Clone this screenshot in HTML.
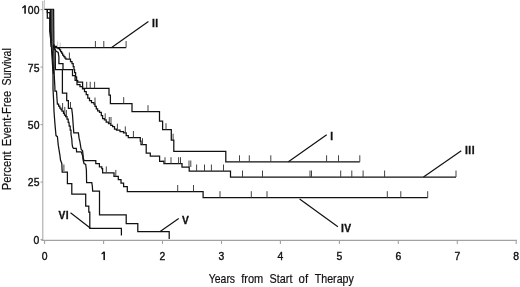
<!DOCTYPE html>
<html><head><meta charset="utf-8"><style>
html,body{margin:0;padding:0;background:#fff;}
svg{display:block;filter:grayscale(1);}
text{font-family:"Liberation Sans", sans-serif;fill:#111;}
</style></head><body>
<svg width="520" height="287" viewBox="0 0 520 287">
<rect width="520" height="287" fill="#fff"/>
<g stroke="#a2a2a2" stroke-width="1.1" fill="none">
<line x1="42.8" y1="1" x2="42.8" y2="240.4" stroke="#a8a8a8"/><line x1="44.5" y1="0" x2="44.5" y2="9" stroke="#bbb" stroke-width="0.8"/>
<line x1="41.5" y1="240.4" x2="517" y2="240.4"/>
<line x1="44.6" y1="240.5" x2="44.6" y2="244"/><line x1="103.6" y1="240.5" x2="103.6" y2="244"/><line x1="162.5" y1="240.5" x2="162.5" y2="244"/><line x1="221.5" y1="240.5" x2="221.5" y2="244"/><line x1="280.4" y1="240.5" x2="280.4" y2="244"/><line x1="339.4" y1="240.5" x2="339.4" y2="244"/><line x1="398.3" y1="240.5" x2="398.3" y2="244"/><line x1="457.3" y1="240.5" x2="457.3" y2="244"/><line x1="516.2" y1="240.5" x2="516.2" y2="244"/>
<line x1="40.5" y1="239.6" x2="43" y2="239.6"/><line x1="40.5" y1="182.1" x2="43" y2="182.1"/><line x1="40.5" y1="124.6" x2="43" y2="124.6"/><line x1="40.5" y1="67.1" x2="43" y2="67.1"/><line x1="40.5" y1="9.6" x2="43" y2="9.6"/>
</g>
<g font-size="11.8" stroke="#111" stroke-width="0.4"><text transform="translate(39.4,13.7) scale(0.88,1)" text-anchor="end">00</text><text transform="translate(39.4,71.5) scale(0.88,1)" text-anchor="end">75</text><text transform="translate(39.4,128.7) scale(0.88,1)" text-anchor="end">50</text><text transform="translate(39.4,186.3) scale(0.88,1)" text-anchor="end">25</text><text transform="translate(39.4,244.4) scale(0.88,1)" text-anchor="end">0</text><text transform="translate(44.6,260.4) scale(0.88,1)" text-anchor="middle">0</text><text transform="translate(162.5,260.4) scale(0.88,1)" text-anchor="middle">2</text><text transform="translate(221.5,260.4) scale(0.88,1)" text-anchor="middle">3</text><text transform="translate(280.4,260.4) scale(0.88,1)" text-anchor="middle">4</text><text transform="translate(339.4,260.4) scale(0.88,1)" text-anchor="middle">5</text><text transform="translate(398.3,260.4) scale(0.88,1)" text-anchor="middle">6</text><text transform="translate(457.3,260.4) scale(0.88,1)" text-anchor="middle">7</text><text transform="translate(516.2,260.4) scale(0.88,1)" text-anchor="middle">8</text></g><g fill="#111" stroke="none"><rect x="24.3" y="5.4" width="1.55" height="8.3"/><polygon points="24.3,5.4 25.2,5.4 24.9,6.9 22.2,8.5 22.2,7.2"/><rect x="103.4" y="251.7" width="1.55" height="8.4"/><polygon points="103.4,251.7 104.3,251.7 104.0,253.2 101.5,254.6 101.5,253.3"/></g>
<g font-size="12" stroke="#111" stroke-width="0.2"><text transform="translate(10.7,190.2) rotate(-90) scale(0.94,1)">Percent</text><text transform="translate(10.7,146.3) rotate(-90) scale(0.935,1)">Event-Free</text><text transform="translate(10.7,85.6) rotate(-90) scale(0.875,1)">Survival</text></g>
<g font-size="12" stroke="#111" stroke-width="0.2"><text transform="translate(208.8,283.4) scale(0.87,1)">Years</text><text transform="translate(241.2,283.4) scale(0.92,1)">from</text><text transform="translate(269.6,283.4) scale(0.9,1)">Start</text><text transform="translate(298.6,283.4) scale(0.95,1)">of</text><text transform="translate(314.7,283.4) scale(0.89,1)">Therapy</text></g>
<g fill="none" stroke="#111" stroke-width="1.25" stroke-linejoin="miter">
<polyline points="53.5,9.4 53.6,44.0 54.6,46.4 56.5,46.4 56.5,47.5 58.0,47.5 58.0,48.6 59.6,48.6 59.6,49.8 60.6,49.8 60.6,51.5 61.6,51.5 61.6,53.2 62.6,53.2 62.6,55.0 63.8,55.0 63.8,56.6 64.9,56.6 64.9,58.2 65.9,58.2 65.9,59.2 70.5,59.2 70.5,61.5 72.0,61.5 72.0,63.5 73.2,63.5 73.2,66.5 74.0,66.5 74.0,69.5 74.6,69.5 74.6,72.5 75.6,72.5 75.6,76.8 76.6,76.8 76.6,80.5 77.7,80.5 77.7,82.0 82.6,82.0 82.6,88.3 109.0,88.3 109.0,95.2 110.4,95.2 110.4,103.6 132.0,103.6 132.0,111.7 159.5,111.7 159.5,121.0 162.6,121.0 162.6,129.7 171.3,129.7 171.3,140.2 173.8,140.2 173.8,151.3 225.8,151.3 225.8,161.8 359.8,161.8"/>
<polyline points="44.4,9.4 53.5,9.4 53.5,44.0 54.3,47.6 126.1,47.6"/>
<polyline points="53.4,9.4 53.6,45.0 54.8,48.8 56.2,51.2 58.2,52.4 58.9,57.0 58.9,63.6 63.0,63.6 63.0,69.6 72.5,69.6 72.5,75.6 75.1,75.6 75.1,80.3 77.0,80.3 77.0,84.5 80.0,84.5 80.0,86.5 82.5,86.5 82.5,88.8 84.5,88.8 84.5,91.5 86.2,91.5 86.2,94.5 87.8,94.5 87.8,98.0 89.5,98.0 89.5,100.5 91.5,100.5 91.5,102.5 94.0,102.5 94.0,104.0 95.0,104.0 95.0,106.3 96.3,106.3 96.3,108.8 97.6,108.8 97.6,110.8 99.5,110.8 99.5,112.3 101.3,112.3 101.3,115.5 102.6,115.5 102.6,118.5 104.4,118.5 104.4,119.8 106.2,119.8 106.2,122.2 108.5,122.2 108.5,123.5 110.8,123.5 110.8,125.4 112.6,125.4 112.6,126.6 114.5,126.6 114.5,129.0 116.5,129.0 116.5,130.2 120.0,130.2 120.0,131.5 123.5,131.5 123.5,132.9 126.2,132.9 126.2,135.5 128.3,135.5 128.3,137.5 140.3,137.5 140.3,141.0 141.0,141.0 141.0,144.7 146.2,144.7 146.2,153.2 150.3,153.2 150.3,156.0 159.6,156.0 159.6,161.4 163.9,161.2 163.9,163.7 182.0,163.7 182.0,167.0 189.2,167.0 189.2,171.0 230.5,171.0 230.5,177.0 456.0,177.0"/>
<polyline points="53.3,9.4 53.5,45.0 54.6,48.8 55.2,50.0 55.3,56.0 55.4,69.6 62.4,69.6 62.4,93.2 66.7,93.2 66.7,100.7 68.4,100.7 68.4,108.4 71.7,108.4 72.5,115.0 73.2,125.0 73.8,132.8 78.4,132.8 79.1,138.4 79.8,141.1 80.5,145.3 81.2,149.5 82.6,150.9 83.3,157.9 84.0,160.5 95.8,160.5 95.8,163.5 99.4,163.5 99.4,166.8 101.8,166.8 101.8,168.5 102.6,168.5 102.6,172.9 114.0,172.9 114.0,176.4 118.3,176.4 118.3,179.5 121.0,179.5 121.0,183.0 123.6,183.0 123.6,186.6 127.3,186.6 127.3,191.5 203.1,191.5 203.1,197.7 427.7,197.7"/>
<polyline points="47.3,9.4 47.3,12.6 49.9,12.6 50.2,30.0 51.2,38.0 52.6,44.0 53.7,48.0 54.0,60.0 54.1,72.0 54.4,78.4 54.9,87.4 54.9,91.0 56.5,91.0 57.0,99.0 57.4,104.0 58.6,104.0 58.6,106.0 59.8,106.0 59.8,108.0 61.0,108.0 61.0,109.5 62.0,109.5 62.0,111.0 63.5,111.0 63.5,113.4 64.5,113.4 64.5,115.0 65.6,115.0 65.6,116.5 67.0,116.5 67.0,119.2 68.2,119.2 68.2,122.3 69.0,122.3 69.2,126.0 70.2,126.0 70.2,130.1 71.0,130.1 71.0,134.5 71.8,139.0 72.1,144.0 72.6,147.0 73.5,148.3 76.3,148.3 76.6,151.8 81.2,151.8 82.6,155.8 83.1,160.0 84.0,163.5 85.7,164.4 86.4,170.0 86.6,182.6 91.8,182.6 92.3,186.0 92.7,191.0 99.5,191.0 99.5,214.9 126.2,214.9 126.2,223.5 137.8,223.5 137.8,231.7 169.2,231.7 169.2,238.9"/>
<polyline points="47.3,9.4 47.3,18.0 49.9,18.0 49.9,30.0 50.6,38.0 51.4,46.0 51.9,55.0 52.6,66.0 53.0,75.0 53.0,80.4 53.0,88.8 53.6,100.0 54.0,111.2 54.6,119.5 55.3,127.9 56.0,135.6 57.4,136.7 58.3,145.4 60.0,155.9 60.5,160.0 61.8,163.5 62.2,172.2 67.4,172.2 67.4,183.5 71.8,183.5 71.8,194.0 85.7,194.0 85.7,206.2 88.8,206.2 88.8,212.2 89.8,212.2 89.8,228.3 121.4,228.3 121.4,235.6"/>
<line x1="52.8" y1="9.4" x2="53.0" y2="42"/><line x1="50.2" y1="30" x2="51.2" y2="38"/><line x1="51.2" y1="38" x2="52" y2="46"/><line x1="52" y1="46" x2="52.5" y2="55"/><line x1="52.5" y1="55" x2="53.2" y2="66"/><line x1="53.2" y1="66" x2="53.6" y2="74"/>
</g>
<polygon points="51.2,9.4 53,9.4 53.3,30 53.5,44 51.6,47.5 51.2,38 51.2,30" fill="#606060"/><polygon points="49.7,9.4 51.5,9.4 51.6,30 51.9,40 51.5,47 50.5,47 49.9,38 49.4,30" fill="#111"/>
<g stroke="#bbb" stroke-width="0.8"><line x1="57.6" y1="47" x2="57.6" y2="41.5"/><line x1="60.2" y1="47" x2="60.2" y2="42.5"/></g>
<g stroke="#3a3a3a" stroke-width="0.95"><line x1="69.4" y1="59.0" x2="69.4" y2="52.5"/><line x1="86.7" y1="88.3" x2="86.7" y2="81.8"/><line x1="90.2" y1="88.3" x2="90.2" y2="81.8"/><line x1="94.6" y1="88.3" x2="94.6" y2="81.8"/><line x1="123.7" y1="103.6" x2="123.7" y2="97.1"/><line x1="148.0" y1="111.7" x2="148.0" y2="105.2"/><line x1="166.0" y1="129.7" x2="166.0" y2="123.2"/><line x1="173.1" y1="140.2" x2="173.1" y2="133.7"/><line x1="239.5" y1="161.8" x2="239.5" y2="155.3"/><line x1="249.3" y1="161.8" x2="249.3" y2="155.3"/><line x1="270.8" y1="161.8" x2="270.8" y2="155.3"/><line x1="326.6" y1="161.8" x2="326.6" y2="155.3"/><line x1="338.5" y1="161.8" x2="338.5" y2="155.3"/><line x1="359.8" y1="161.8" x2="359.8" y2="155.3"/><line x1="95.4" y1="47.5" x2="95.4" y2="41.0"/><line x1="103.8" y1="47.5" x2="103.8" y2="41.0"/><line x1="126.1" y1="47.5" x2="126.1" y2="41.0"/><line x1="95.0" y1="104.0" x2="95.0" y2="97.5"/><line x1="105.2" y1="119.8" x2="105.2" y2="113.3"/><line x1="109.3" y1="123.5" x2="109.3" y2="117.0"/><line x1="111.0" y1="123.5" x2="111.0" y2="117.0"/><line x1="117.4" y1="130.2" x2="117.4" y2="123.7"/><line x1="125.3" y1="132.9" x2="125.3" y2="126.4"/><line x1="133.4" y1="137.5" x2="133.4" y2="131.0"/><line x1="142.5" y1="144.7" x2="142.5" y2="138.2"/><line x1="165.0" y1="163.7" x2="165.0" y2="157.2"/><line x1="171.0" y1="163.7" x2="171.0" y2="157.2"/><line x1="178.6" y1="163.7" x2="178.6" y2="157.2"/><line x1="180.5" y1="163.7" x2="180.5" y2="157.2"/><line x1="189.0" y1="167.0" x2="189.0" y2="160.5"/><line x1="190.8" y1="167.0" x2="190.8" y2="160.5"/><line x1="196.6" y1="171.0" x2="196.6" y2="164.5"/><line x1="204.5" y1="171.0" x2="204.5" y2="164.5"/><line x1="211.4" y1="171.0" x2="211.4" y2="164.5"/><line x1="223.5" y1="171.0" x2="223.5" y2="164.5"/><line x1="242.5" y1="177.0" x2="242.5" y2="170.5"/><line x1="262.5" y1="177.0" x2="262.5" y2="170.5"/><line x1="310.0" y1="177.0" x2="310.0" y2="170.5"/><line x1="311.5" y1="177.0" x2="311.5" y2="170.5"/><line x1="340.7" y1="177.0" x2="340.7" y2="170.5"/><line x1="351.8" y1="177.0" x2="351.8" y2="170.5"/><line x1="363.1" y1="177.0" x2="363.1" y2="170.5"/><line x1="384.6" y1="177.0" x2="384.6" y2="170.5"/><line x1="456.0" y1="177.0" x2="456.0" y2="170.5"/><line x1="70.5" y1="108.5" x2="70.5" y2="102.0"/><line x1="106.3" y1="172.9" x2="106.3" y2="166.4"/><line x1="115.8" y1="176.4" x2="115.8" y2="169.9"/><line x1="177.7" y1="191.5" x2="177.7" y2="185.0"/><line x1="193.5" y1="191.5" x2="193.5" y2="185.0"/><line x1="220.0" y1="197.7" x2="220.0" y2="191.2"/><line x1="251.3" y1="197.7" x2="251.3" y2="191.2"/><line x1="267.0" y1="197.7" x2="267.0" y2="191.2"/><line x1="387.3" y1="197.7" x2="387.3" y2="191.2"/><line x1="400.8" y1="197.7" x2="400.8" y2="191.2"/><line x1="427.7" y1="197.7" x2="427.7" y2="191.2"/><line x1="62.6" y1="109.5" x2="62.6" y2="103.0"/><line x1="64.8" y1="113.4" x2="64.8" y2="106.9"/><line x1="66.4" y1="116.5" x2="66.4" y2="110.0"/><line x1="63.9" y1="171.0" x2="63.9" y2="164.5"/></g>
<g stroke="#111" stroke-width="1.2">
<line x1="111.3" y1="47.7" x2="148.4" y2="21.5"/>
<line x1="288.4" y1="161.8" x2="326.7" y2="134.8"/>
<line x1="423.5" y1="176.9" x2="461.3" y2="150.8"/>
<line x1="299.6" y1="198.9" x2="337.9" y2="226.8"/>
<line x1="159.8" y1="231.7" x2="178.7" y2="218.5"/>
<line x1="70.5" y1="212.8" x2="90.2" y2="228"/>
</g>
<g font-size="10.3" font-weight="bold" stroke="#111" stroke-width="0.3" letter-spacing="0.5">
<text x="152" y="26.8">II</text>
<text x="330.3" y="139.5">I</text>
<text x="465" y="153.9">III</text>
<text x="341" y="231.7">IV</text>
<text x="182" y="224.3">V</text>
<text x="58.5" y="218.9">VI</text>
</g>
</svg>
</body></html>
